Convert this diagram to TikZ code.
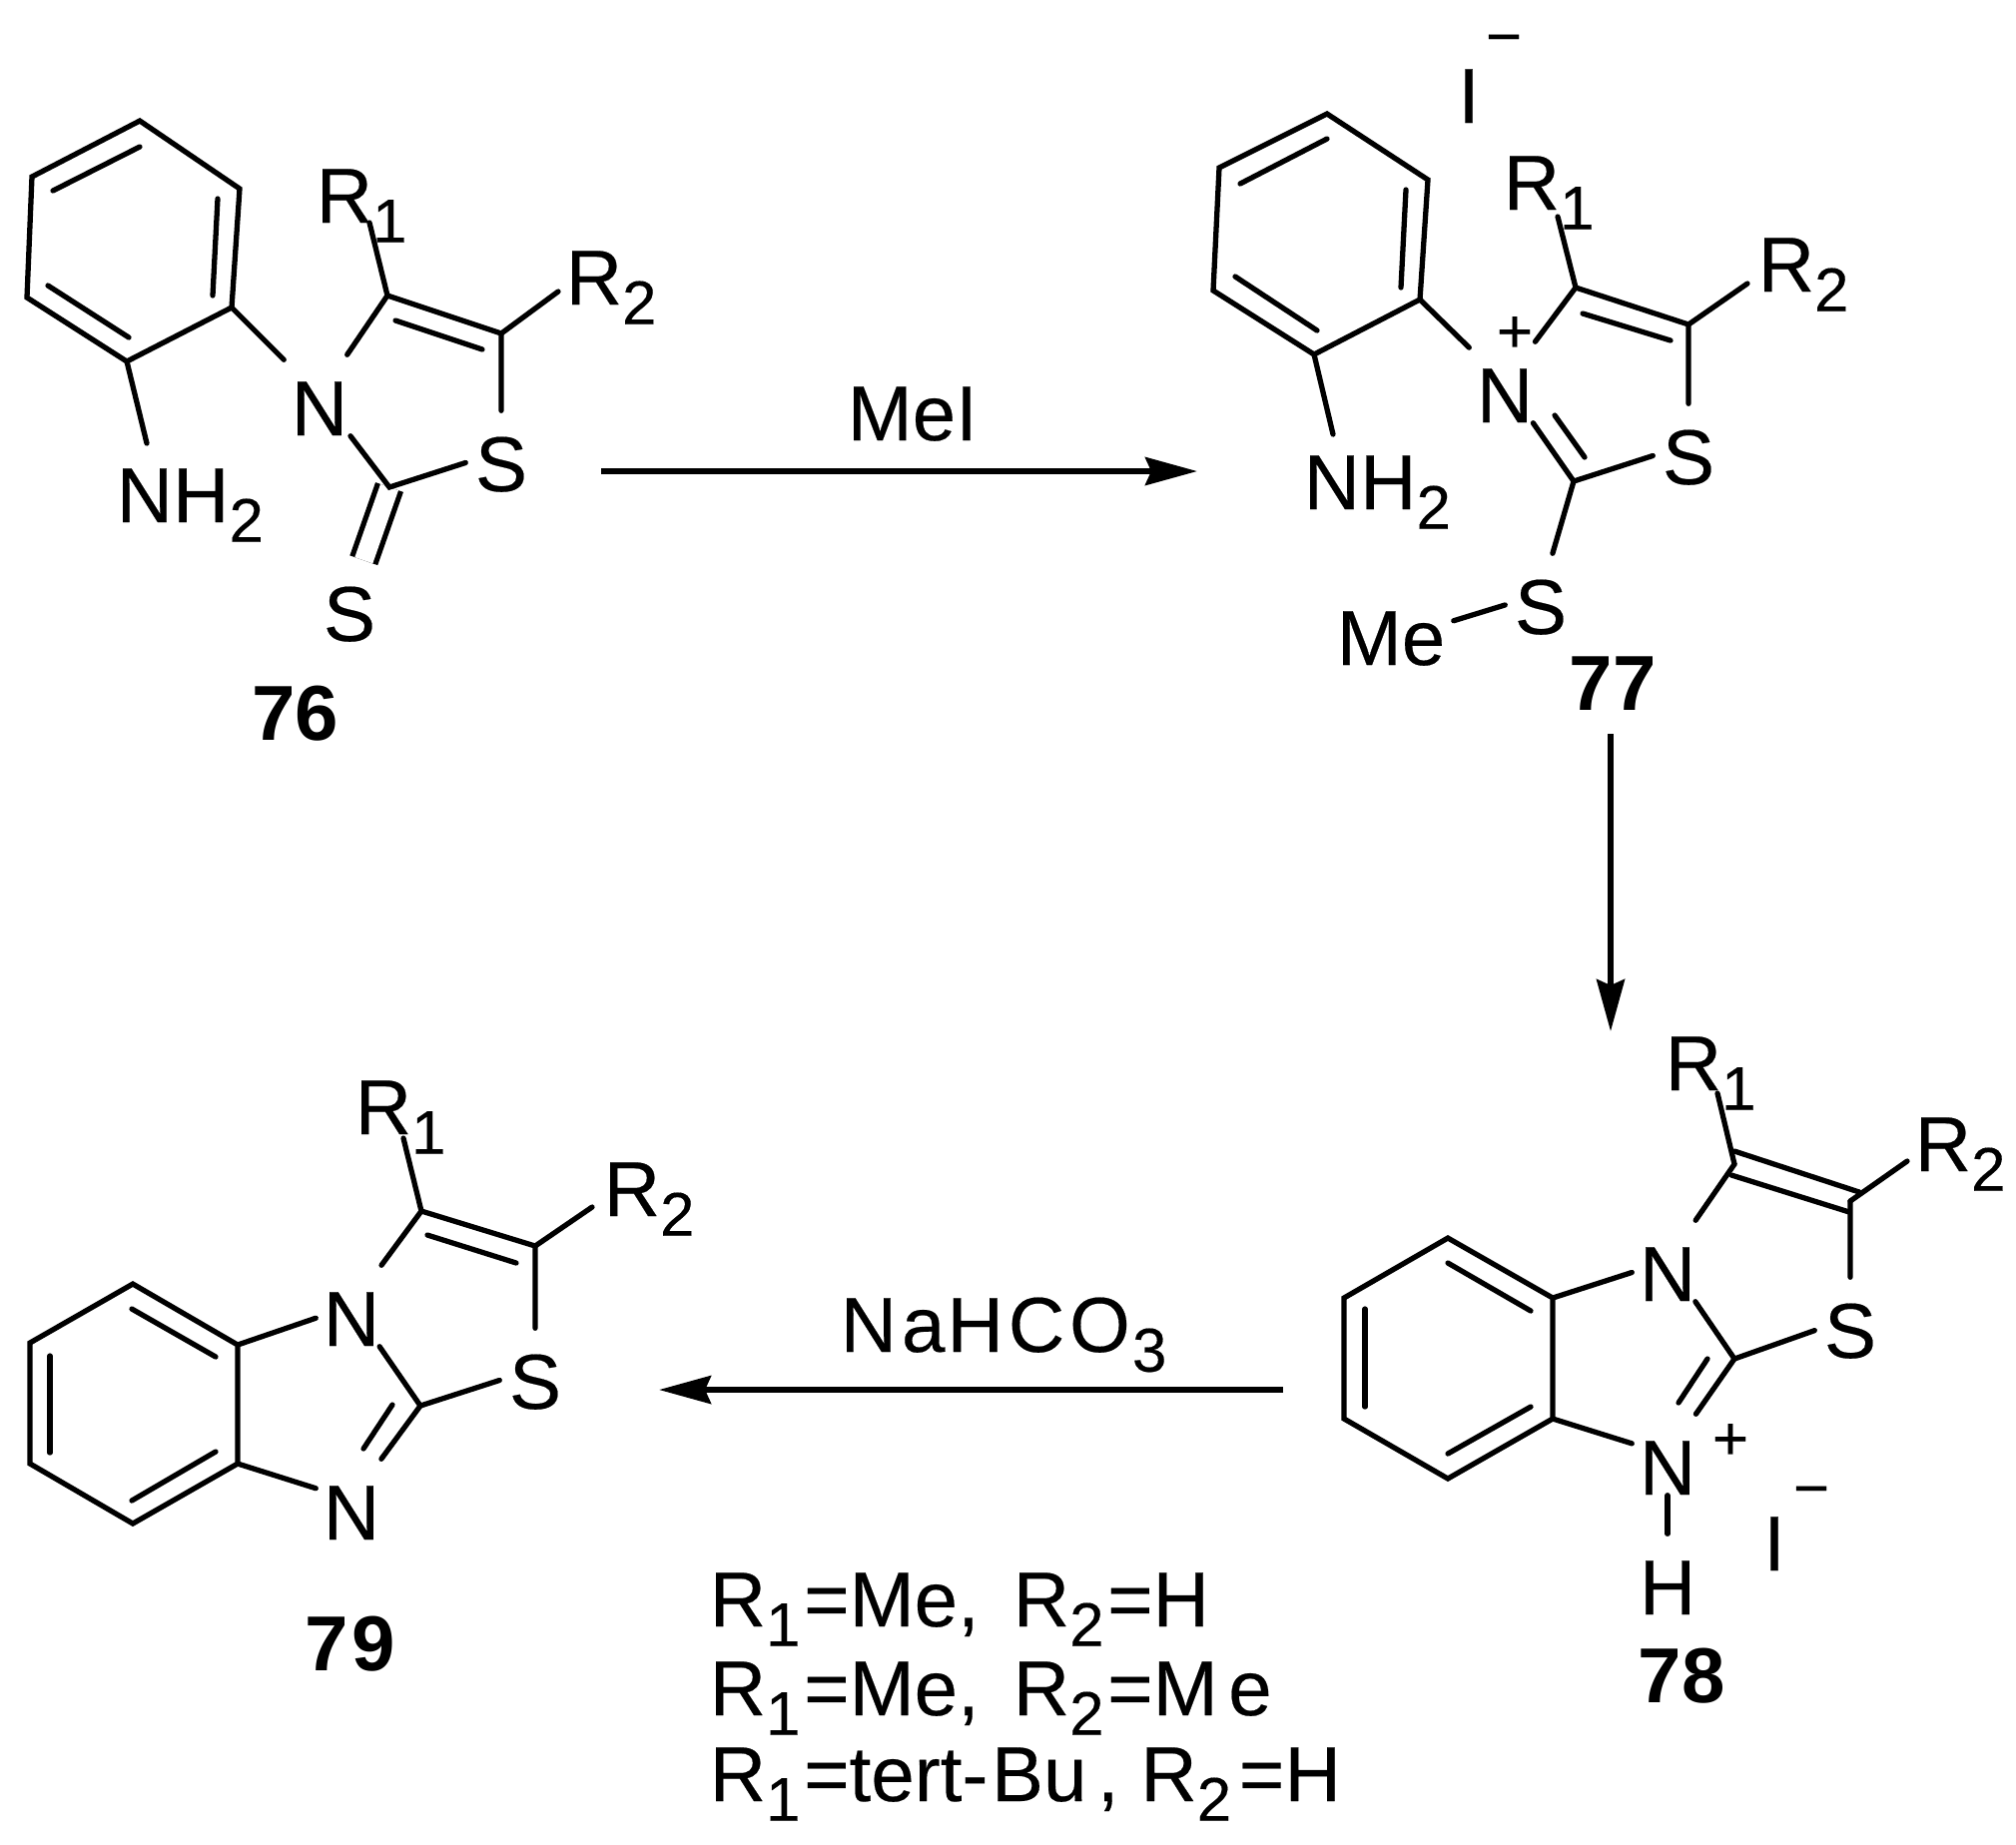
\documentclass[tikz,border=0pt]{standalone}
\usepackage{fontspec}
\setmainfont[UprightFeatures={FakeBold=0.25}]{Liberation Sans}
\usetikzlibrary{arrows.meta}
\newcommand{\lowidx}[1]{\raisebox{-5.6pt}{\fontsize{17.6}{20}\selectfont #1}}
\tikzset{
	bond/.style={line width=1.5pt, line cap=round},
	rxn/.style={line width=1.6pt, -{Stealth[length=0.52cm, width=0.28cm, inset=0.06cm]}},
	atom/.style={inner sep=0pt, anchor=base, minimum width=0.7cm, text height=0.8cm, text depth=0cm},
	txt/.style={inner sep=0pt, anchor=base west},
	cmpd/.style={inner sep=0pt, anchor=base, font=\fontsize{22.2}{26}\selectfont\bfseries},
	anion/.style={inner sep=0pt, anchor=base},
	sign/.style={inner sep=0pt, font=\fontsize{17.6}{20}\selectfont}
}

\begin{document}
\begin{tikzpicture}[x=0.01cm, y=-0.01cm, every node/.append style={font=\fontsize{22.2}{26}\selectfont}]
	\useasboundingbox (0, 0) rectangle (2019, 1847);
	
	%%%%% 76 %%%%%
	\draw[bond] (140, 121) -- (240, 189) -- (232, 308) coordinate (a76) -- (127, 362) coordinate (b76) -- (27, 298) -- (32, 177) -- cycle;
	\draw[bond] (140, 147) -- (53, 191);
	\draw[bond] (218, 199) -- (213, 296);
	\draw[bond] (129, 338) -- (48, 286);
	
	\node[atom] (n76) at (320, 436) {N};
	\node[atom] (s76) at (502, 492) {S};
	\node[atom] (t76) at (350, 642) {S};
	\node[txt] (nh76) at (116, 523) {NH\lowidx{2}};
	\node[txt] (ra76) at (316, 223) {R\lowidx{1}};
	\node[txt] (rb76) at (566, 305) {R\lowidx{2}};
	\node[cmpd] (num76) at (296, 741) {76};
	
	\coordinate (c76) at (388, 296);
	\coordinate (d76) at (502, 334);
	\coordinate (e76) at (390, 488);
	\coordinate (f76) at (147, 444);
	\coordinate (g76) at (370, 223);
	\coordinate (h76) at (559, 292);
	
	\draw[bond, line cap=butt, double, double distance=0.19cm] (e76) -- (t76);
	\draw[bond] (a76) -- (n76);
	\draw[bond] (b76) -- (f76);
	\draw[bond] (n76) -- (c76) -- (d76) -- (s76) -- (e76) -- (n76);
	\draw[bond] (396, 321) -- (483, 350);
	\draw[bond] (c76) -- (g76);
	\draw[bond] (d76) -- (h76);
	
	%%%%% 77 %%%%%
	\draw[bond] (1329, 114) -- (1430, 180) -- (1422, 300) coordinate (a77) -- (1316, 355) coordinate (b77) -- (1215, 291) -- (1221, 168) -- cycle;
	\draw[bond] (1329, 139) -- (1242, 184);
	\draw[bond] (1408, 190) -- (1403, 288);
	\draw[bond] (1319, 331) -- (1237, 277);
	
	\node[atom] (n77) at (1507, 423) {N};
	\node[atom] (s77) at (1691, 485) {S};
	\node[atom] (t77) at (1543, 635) {S};
	\node[atom, minimum width=1.24cm, text depth=0.3cm] (me77) at (1393, 666) {Me};
	\node[txt] (nh77) at (1305, 510) {NH\lowidx{2}};
	\node[txt] (ra77) at (1505, 210) {R\lowidx{1}};
	\node[txt] (rb77) at (1760, 292) {R\lowidx{2}};
	\node[cmpd] (num77) at (1615, 711) {77};
	\node[sign] (plus77) at (1517, 335) {+};
	\node[anion] (iod77) at (1471, 123) {I};
	\node[sign] (minus77) at (1506, 46) {−};
	
	\coordinate (c77) at (1578, 288);
	\coordinate (d77) at (1691, 325);
	\coordinate (e77) at (1576, 482);
	\coordinate (f77) at (1335, 435);
	\coordinate (g77) at (1560, 217);
	\coordinate (h77) at (1750, 284);
	
	\draw[bond] (a77) -- (n77);
	\draw[bond] (b77) -- (f77);
	\draw[bond] (n77) -- (c77) -- (d77) -- (s77) -- (e77) -- (n77);
	\draw[bond] (1585, 314) -- (1673, 341);
	\draw[bond] (1557, 416) -- (1587, 458);
	\draw[bond] (c77) -- (g77);
	\draw[bond] (d77) -- (h77);
	\draw[bond] (e77) -- (t77);
	\draw[bond] (t77) -- (me77);
	
	%%%%% 78 %%%%%
	\draw[bond] (1450, 1240) -- (1555, 1300) coordinate (a78) -- (1555, 1421) coordinate (b78) -- (1450, 1481) -- (1346, 1421) -- (1346, 1300) -- cycle;
	\draw[bond] (1450, 1265) -- (1533, 1313);
	\draw[bond] (1367, 1311) -- (1367, 1409);
	\draw[bond] (1533, 1409) -- (1450, 1456);
	
	\node[atom] (n78) at (1670, 1303) {N};
	\node[atom] (m78) at (1670, 1497) {N};
	\node[atom] (s78) at (1853, 1360) {S};
	\node[atom] (h78) at (1670, 1617) {H};
	\node[txt] (ra78) at (1667, 1092) {R\lowidx{1}};
	\node[txt] (rb78) at (1917, 1173) {R\lowidx{2}};
	\node[cmpd] (num78) at (1684, 1705) {78};
	\node[sign] (plus78) at (1733, 1444) {+};
	\node[anion] (iod78) at (1777, 1573) {I};
	\node[sign] (minus78) at (1814, 1500) {−};
	
	\coordinate (c78) at (1737, 1166);
	\coordinate (d78) at (1853, 1203);
	\coordinate (e78) at (1737, 1361);
	\coordinate (g78) at (1720, 1095);
	\coordinate (i78) at (1910, 1163);
	
	\draw[bond] (a78) -- (n78);
	\draw[bond] (b78) -- (m78);
	\draw[bond] (n78) -- (c78);
	\draw[bond] (d78) -- (s78) -- (e78) -- (n78);
	\draw[bond] (e78) -- (m78);
	\draw[bond] (1710, 1361) -- (1681, 1405);
	\draw[bond] (1737, 1153) -- (1862, 1194);
	\draw[bond] (1734, 1177) -- (1852, 1214);
	\draw[bond] (c78) -- (g78);
	\draw[bond] (d78) -- (i78);
	\draw[bond] (m78) -- (h78);
	
	%%%%% 79 %%%%%
	\draw[bond] (133, 1286) -- (238, 1347) coordinate (a79) -- (238, 1466) coordinate (b79) -- (133, 1526) -- (30, 1466) -- (30, 1345) -- cycle;
	\draw[bond] (132, 1311) -- (216, 1359);
	\draw[bond] (50, 1358) -- (50, 1455);
	\draw[bond] (216, 1454) -- (132, 1503);
	
	\node[atom] (n79) at (352, 1348) {N};
	\node[atom] (m79) at (352, 1542) {N};
	\node[atom] (s79) at (536, 1411) {S};
	\node[txt] (ra79) at (355, 1136) {R\lowidx{1}};
	\node[txt] (rb79) at (604, 1218) {R\lowidx{2}};
	\node[cmpd] (num79) at (351, 1673) {7\kern1pt 9};
	
	\coordinate (c79) at (422, 1213);
	\coordinate (d79) at (536, 1248);
	\coordinate (e79) at (421, 1408);
	\coordinate (g79) at (404, 1140);
	\coordinate (h79) at (593, 1209);
	
	\draw[bond] (a79) -- (n79);
	\draw[bond] (b79) -- (m79);
	\draw[bond] (n79) -- (c79) -- (d79) -- (s79) -- (e79) -- (n79);
	\draw[bond] (e79) -- (m79);
	\draw[bond] (428, 1237) -- (517, 1265);
	\draw[bond] (393, 1407) -- (364, 1451);
	\draw[bond] (c79) -- (g79);
	\draw[bond] (d79) -- (h79);
	
	%%%%% arrows %%%%%
	\coordinate (p1) at (602, 472);
	\coordinate (p2) at (1199, 472);
	\coordinate (p3) at (1613, 735);
	\coordinate (p4) at (1613, 1033);
	\coordinate (p5) at (1285, 1392);
	\coordinate (p6) at (660, 1392);
	\draw[rxn] (p1) -- (p2);
	\draw[rxn] (p3) -- (p4);
	\draw[rxn] (p5) -- (p6);
	
	\node[txt] (mei) at (848, 441) {MeI};
	\node[txt] (base) at (841, 1354) {N\kern1.4pt a\kern0.6pt H\kern1.4pt C\kern1.4pt O\kern0.6pt\lowidx{3}};
	
	\node[txt] (line1) at (710, 1629) {R\lowidx{1}\kern1pt =Me, \kern3.5pt R\lowidx{2}\kern1pt =H};
	\node[txt] (line2) at (710, 1718) {R\lowidx{1}\kern1pt =Me, \kern3.5pt R\lowidx{2}\kern1pt =M\kern3pt e};
	\node[txt] (line3) at (710, 1804) {R\lowidx{1}\kern1pt =tert-\kern1pt Bu\kern3pt, R\lowidx{2}\kern2.2pt =H};
	
\end{tikzpicture}
\end{document}
